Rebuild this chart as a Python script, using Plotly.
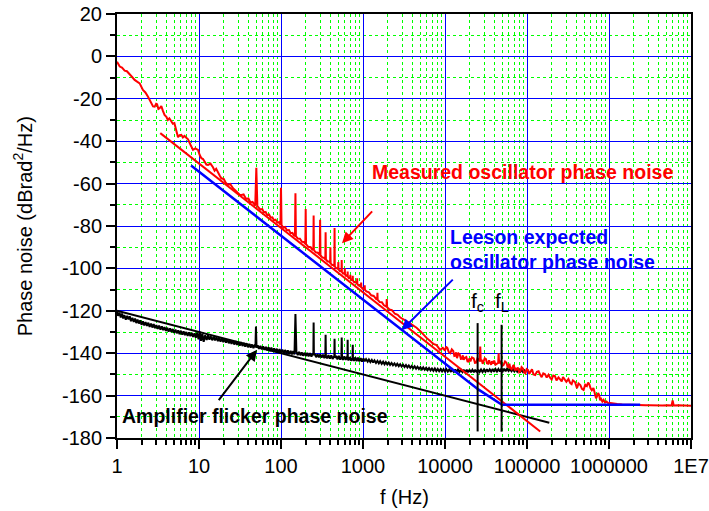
import plotly.graph_objects as go

# ---------------- data ----------------
# Measured oscillator phase noise (Hz, dBrad^2/Hz)
red_low = [
    (1.0, -2.5), (1.04, -3.8), (1.08, -4.8), (1.15, -5.3), (1.24, -6.7), (1.32, -7.0),
    (1.43, -8.3), (1.52, -9.6), (1.64, -11.1), (1.76, -11.8), (1.89, -12.7), (2.07, -15.8),
    (2.22, -17.0), (2.39, -19.0), (2.52, -21.0), (2.62, -22.1), (2.75, -23.6), (2.88, -23.7),
    (3.0, -22.4), (3.08, -22.6), (3.2, -24.8), (3.31, -24.5), (3.47, -23.4), (3.62, -25.6),
    (3.80, -27.6), (4.0, -28.5), (4.17, -30.0), (4.35, -29.2), (4.57, -30.3), (4.8, -31.8),
    (5.01, -31.5), (5.25, -34.5), (5.55, -38.1), (5.8, -37.2), (6.08, -37.0), (6.35, -38.2),
    (6.67, -37.5), (7.0, -38.4), (7.35, -39.1), (7.9, -41.8), (8.45, -44.1), (9.0, -43.4),
    (9.73, -44.1), (10.2, -46.5), (10.7, -48.0), (11.2, -48.4), (11.7, -49.6), (12.3, -51.0),
    (12.9, -51.2), (13.8, -50.6), (14.8, -52.3), (15.5, -53.9), (16.2, -53.0), (17.1, -55.1),
    (18.0, -56.4), (18.7, -57.5), (20.0, -57.8), (21.2, -59.6), (22.6, -60.6), (24.0, -60.2),
    (26.0, -62.2), (28.0, -63.4), (31.3, -65.2),
]
red_mid = [
    (33.0, -65.4), (35, -65.1), (37.5, -67.2), (40, -67.0), (42.5, -68.9), (45, -68.6),
    (48.5, -70.4), (50, -52.5), (51.5, -70.6), (56, -72.3), (59, -72.0), (62, -73.6),
    (65, -73.4), (68, -74.9), (71.5, -74.6), (75, -76.1), (78.5, -75.9), (82, -77.3),
    (86, -77.0), (90, -78.4), (94, -78.2), (98.5, -79.4), (100, -62.0), (101.5, -79.5),
    (107, -80.8), (112, -80.5), (118, -82.0), (125, -81.9), (131, -83.4), (138, -83.2),
    (143, -84.4), (148, -84.6), (150, -64.5), (152, -84.8), (160, -85.9), (170, -86.0),
    (180, -87.4), (190, -87.5), (198, -88.5), (200, -72.0), (202, -88.5), (215, -89.8),
    (230, -90.0), (240, -91.1), (248, -91.2), (250, -75.0), (252, -91.4), (265, -92.4),
    (280, -92.6), (297, -93.7), (300, -77.0), (303, -93.8), (320, -94.9), (335, -95.0),
    (347, -95.7), (350, -83.0), (353, -95.8), (370, -96.7), (385, -96.7), (397, -97.4),
    (400, -90.0), (403, -97.6), (420, -98.4), (435, -98.4), (447, -99.0), (450, -81.0),
    (453, -99.1), (470, -99.9), (485, -99.8), (497, -100.4), (500, -97.0), (503, -100.5),
    (520, -101.2), (535, -101.1), (547, -101.6), (550, -96.0), (553, -101.7), (570, -102.4),
    (585, -102.2), (597, -102.8), (600, -100.0), (603, -102.8), (620, -103.5), (635, -103.3),
    (647, -103.8), (650, -101.5), (653, -103.9), (670, -104.5), (685, -104.3), (697, -104.8),
    (700, -103.0), (703, -104.8), (720, -105.4), (735, -105.2), (747, -105.7), (750, -103.5),
    (753, -105.7), (780, -106.5), (810, -106.4), (847, -107.3), (850, -104.6), (853, -107.3),
    (880, -108.0), (910, -107.9), (945, -108.8), (950, -106.7), (955, -108.8), (990, -109.6),
    (1020, -109.4), (1045, -110.1), (1050, -108.0), (1055, -110.1), (1100, -110.9),
    (1180, -111.3), (1260, -112.7), (1350, -113.0), (1450, -114.5), (1490, -114.6),
    (1500, -111.5), (1510, -114.8), (1600, -115.9), (1700, -116.0), (1800, -117.4),
    (1930, -118.0), (1950, -114.5), (1970, -118.3), (2100, -119.4), (2250, -119.7),
    (2450, -121.4), (2650, -121.9), (2850, -123.2), (3100, -123.9), (3350, -124.9),
    (3600, -125.5), (3900, -126.4), (4200, -127.2), (4500, -128.0), (5000, -129.6),
    (5500, -131.4), (6000, -132.9), (6600, -134.3), (7200, -135.6), (7900, -136.2),
    (8700, -138.4), (9400, -137.5),
]
red_high = [
    (10000, -138.8), (10300, -136.9), (10700, -137.6), (11100, -139.4), (11600, -140.0),
    (12100, -138.2), (12600, -139.0), (13000, -141.3), (13300, -141.2), (13700, -139.6),
    (14000, -142.3), (14600, -140.1), (15100, -140.5), (15600, -142.7), (16100, -142.6),
    (16500, -141.0), (16900, -143.1), (17500, -142.2), (18200, -141.8), (18800, -143.9),
    (19300, -144.0), (19900, -142.4), (20400, -143.9), (21300, -142.0), (22400, -142.5),
    (23200, -144.6), (24000, -144.5), (24800, -142.6), (25700, -143.0), (26500, -143.8),
    (26900, -136.8), (27300, -143.6), (28200, -143.5), (28800, -145.0), (29500, -143.9),
    (30500, -142.4), (31600, -142.8), (32500, -144.8), (33500, -145.0), (34500, -143.4),
    (35500, -144.7), (36500, -145.4), (37500, -143.8), (38600, -144.9), (39800, -143.5),
    (41200, -145.4), (42700, -145.0), (44500, -144.6), (45100, -140.0), (45700, -144.8),
    (46800, -143.6), (47900, -144.5), (49800, -146.0), (51900, -145.5), (54000, -143.9),
    (56200, -144.5), (57800, -146.3), (59500, -146.6), (61000, -145.0), (62500, -147.0),
    (65000, -147.6), (67600, -146.0), (69300, -145.6), (71000, -148.2), (72500, -146.9),
    (74100, -148.0), (76000, -147.5), (78000, -146.8), (80300, -149.0), (82800, -148.6),
    (85900, -146.6), (89100, -147.2), (92200, -149.1), (95500, -149.5), (99000, -147.5),
    (103000, -148.0), (106500, -149.8), (110000, -148.6), (115000, -147.6), (120000, -150.0),
    (126000, -150.3), (132000, -148.8), (138500, -148.5), (145000, -150.2), (151000, -151.3),
    (158000, -149.5), (166000, -149.9), (174000, -151.5), (183000, -150.2), (192000, -151.7),
    (200000, -152.4), (209000, -150.5), (219000, -150.8), (229000, -152.8), (242000, -151.4),
    (255000, -152.5), (265000, -153.3), (275000, -151.2), (288000, -152.1), (302000, -153.5),
    (320000, -152.2), (337000, -154.1), (350000, -154.6), (363000, -152.8), (385000, -153.6),
    (407000, -156.5), (425000, -154.3), (447000, -155.0), (468000, -156.8), (490000, -157.3),
    (513000, -154.9), (537000, -155.5), (556000, -153.8), (575000, -154.6), (596000, -156.6),
    (617000, -157.5), (646000, -156.4), (676000, -159.0), (695000, -161.2), (714000, -160.4),
    (737000, -158.8), (759000, -159.8), (780000, -162.2), (800000, -161.6), (830000, -162.8),
    (859000, -162.0), (895000, -163.3), (933000, -162.8), (985000, -163.7), (1040000, -163.5),
    (1150000, -163.9), (1260000, -164.0), (1450000, -164.2), (1660000, -164.3),
    (2000000, -164.5), (2400000, -164.8), (2800000, -164.6), (3160000, -164.6),
    (3800000, -164.8), (4470000, -164.7), (5200000, -164.6), (5800000, -164.7),
    (5970000, -162.3), (6150000, -164.7), (7000000, -164.6), (7940000, -164.6),
    (8900000, -164.8), (10000000, -164.8),
]

# Amplifier flicker phase noise (measured)
amp_low = [
    (1.00, -120.2), (1.03, -122.4), (1.07, -120.8), (1.11, -123.1), (1.15, -121.3),
    (1.19, -123.6), (1.23, -122.0), (1.28, -124.2), (1.33, -122.4), (1.38, -124.0),
    (1.43, -122.6), (1.48, -124.9), (1.54, -123.3), (1.60, -125.2), (1.66, -123.7),
    (1.72, -125.8), (1.78, -124.1), (1.85, -126.0), (1.92, -124.5), (1.99, -126.6),
    (2.07, -125.0), (2.15, -126.9), (2.23, -125.3), (2.32, -127.1), (2.41, -125.6),
    (2.50, -127.6), (2.60, -126.0), (2.70, -127.9), (2.80, -126.3), (2.91, -128.2),
    (3.02, -126.8), (3.14, -128.5), (3.26, -127.0), (3.39, -128.9), (3.52, -127.3),
    (3.66, -129.1), (3.80, -127.7), (3.95, -129.5), (4.10, -128.0), (4.26, -129.8),
    (4.43, -128.3), (4.60, -130.0), (4.78, -128.6), (4.97, -130.4), (5.16, -128.9),
    (5.36, -130.6), (5.57, -129.2), (5.79, -131.0), (6.01, -129.4), (6.25, -131.2),
    (6.49, -129.7), (6.74, -131.5), (7.00, -130.0), (7.27, -131.8), (7.55, -130.2),
    (7.85, -132.0), (8.15, -130.4), (8.47, -132.3), (8.80, -130.6), (9.14, -132.7),
    (9.50, -130.3), (9.87, -133.4), (10.25, -129.8), (10.6, -134.2), (11.0, -130.9),
    (11.4, -134.6), (11.9, -131.5), (12.4, -133.8), (12.9, -131.6), (13.4, -133.6),
    (13.9, -132.0), (14.5, -133.9), (15.1, -132.2), (15.7, -134.0), (16.3, -132.5),
    (17.0, -134.3), (17.6, -132.7), (18.3, -134.5), (19.0, -133.0), (19.8, -134.8),
    (20.5, -133.2), (21.4, -135.0), (22.2, -133.5), (23.1, -135.3), (24.0, -133.8),
    (24.9, -135.6), (25.9, -134.0), (26.9, -135.9), (28.0, -134.3), (29.1, -136.1),
    (30.2, -134.6), (31.4, -136.4), (32.6, -134.8), (33.9, -136.6), (35.2, -135.1),
    (36.6, -136.9), (38.0, -135.3), (39.5, -137.2), (41.1, -135.6), (42.7, -137.4),
    (44.4, -135.9), (46.1, -137.6), (47.9, -136.0), (48.8, -137.0), (49.5, -127.4),
    (50.3, -137.3), (52.0, -136.3), (54.0, -138.0), (56.1, -136.5), (58.3, -138.2),
    (60.6, -136.8), (63.0, -138.4), (65.5, -137.0), (68.0, -138.7), (70.7, -137.2),
    (73.5, -139.0), (76.3, -137.4), (79.3, -139.2), (82.4, -137.7), (85.6, -139.4),
    (89.0, -137.9), (92.5, -139.7), (96.1, -138.1),
]
amp_mid = [
    (100, -139.8), (104, -138.3), (108, -140.1), (112, -138.5), (117, -140.2), (121, -138.7),
    (126, -140.4), (131, -138.9), (136, -140.6), (141, -139.0), (146, -140.6), (150, -121.5),
    (154, -139.3), (160, -140.9), (166, -139.4), (173, -141.0), (179, -139.6), (186, -141.2),
    (194, -139.8), (201, -141.3), (209, -139.9), (217, -141.5), (226, -140.0), (235, -141.6),
    (244, -140.2), (248, -141.0), (250, -125.5), (252, -141.0), (258, -140.3), (268, -141.9),
    (279, -140.4), (290, -142.0), (301, -140.6), (313, -142.1), (325, -140.7), (338, -142.3),
    (347, -141.5), (350, -131.3), (353, -141.4), (365, -142.4), (379, -140.9), (394, -142.6),
    (410, -141.0), (426, -142.7), (442, -141.5), (447, -142.0), (450, -133.2), (453, -142.2),
    (470, -141.2), (488, -142.9), (507, -141.3), (527, -143.0), (545, -142.0), (550, -132.6),
    (555, -142.2), (570, -143.1), (592, -141.5), (615, -143.2), (639, -141.6), (647, -142.5),
    (650, -133.7), (653, -142.6), (665, -143.4), (690, -141.8), (717, -143.5), (745, -142.4),
    (750, -136.0), (755, -142.6), (775, -143.6), (805, -142.0), (836, -143.8), (869, -142.1),
    (903, -143.9), (938, -142.3), (975, -144.0), (1013, -142.5),
]
amp_high = [
    (1050, -143.8), (1090, -142.8), (1140, -144.0), (1180, -143.0), (1230, -144.2),
    (1280, -143.2), (1330, -144.4), (1380, -143.4), (1440, -144.6), (1500, -143.6),
    (1560, -144.8), (1620, -143.8), (1690, -145.0), (1760, -144.0), (1830, -145.2),
    (1900, -144.2), (1980, -145.3), (2060, -144.4), (2140, -145.5), (2230, -144.6),
    (2320, -145.7), (2420, -144.8), (2520, -145.9), (2620, -145.0), (2730, -146.1),
    (2840, -145.2), (2960, -146.3), (3080, -145.4), (3210, -146.5), (3340, -145.6),
    (3480, -146.7), (3620, -145.8), (3770, -146.9), (3930, -146.0), (4090, -147.1),
    (4260, -146.2), (4440, -147.3), (4620, -146.4), (4810, -147.5), (5010, -146.6),
    (5220, -147.7), (5430, -146.7), (5660, -147.8), (5890, -146.9), (6140, -148.0),
    (6390, -147.0), (6660, -148.1), (6930, -147.2), (7220, -148.3), (7520, -147.2),
    (7830, -148.4), (8150, -147.4), (8490, -148.5), (8840, -147.5), (9210, -148.6),
    (9590, -147.5), (9990, -148.7), (10400, -147.6), (10800, -148.7), (11300, -147.6),
    (11800, -148.8), (12200, -147.7), (12800, -148.8), (13300, -147.7), (13800, -148.9),
    (14400, -147.7), (15000, -148.9), (15600, -147.8), (16300, -148.9), (16900, -147.8),
    (17600, -149.0), (18400, -147.8), (19100, -149.0), (19900, -147.8), (20700, -149.0),
    (21600, -147.8), (22500, -149.0), (23400, -147.8), (24400, -149.0), (25400, -147.8),
    (26400, -148.9), (27500, -147.7), (28700, -148.9), (29900, -147.7), (31100, -148.8),
    (32400, -147.6), (33700, -148.8), (35100, -147.6), (36600, -148.7), (38100, -147.5),
    (39700, -148.7), (41300, -147.5), (43000, -148.6), (44800, -147.4), (46700, -148.6),
    (48600, -147.4), (50600, -148.5), (52700, -147.3), (54900, -148.5), (57200, -147.3),
    (59600, -148.4), (62100, -147.4), (64700, -148.5), (67400, -147.5), (70200, -148.6),
    (73100, -147.6), (76100, -148.7), (79300, -147.8), (82600, -148.8), (86000, -148.0),
    (89600, -148.9), (93300, -148.1), (95000, -148.6),
]

# straight reference lines
fit_f = [3.37, 145000]          # f^-3 fit of measured oscillator noise
fit_db = [-36.2, -176.9]
leeson_f = [8, 25700, 49500, 2400000]
leeson_db = [-51.5, -157.2, -164.3, -164.3]
flicker_f = [1, 187000]
flicker_db = [-120.0, -172.8]
fc_hz, fl_hz = 25000, 49000
fc_db = [-125.8, -176.9]
fl_db = [-126.6, -177.0]

x_tickvals = [1, 10, 100, 1000, 10000, 100000, 1000000, 10000000]
x_ticktext = ["1", "10", "100", "1000", "10000", "100000", "1000000", "1E7"]
y_tickvals = [20, 0, -20, -40, -60, -80, -100, -120, -140, -160, -180]
y_ticktext = ["20", "0", "-20", "-40", "-60", "-80", "-100", "-120", "-140", "-160", "-180"]

# ---------------- figure ----------------
RED, BLUE, BLACK = "#FF0000", "#0000FF", "#000000"
FONT = "Arial, Liberation Sans, sans-serif"

red_pts = red_low + red_mid + red_high
amp_pts = amp_low + amp_mid + amp_high
fig = go.Figure()
fig.add_trace(go.Scatter(x=[p[0] for p in amp_pts], y=[p[1] for p in amp_pts],
                         mode="lines", line=dict(color=BLACK, width=2)))
fig.add_trace(go.Scatter(x=[p[0] for p in red_pts], y=[p[1] for p in red_pts],
                         mode="lines", line=dict(color=RED, width=2)))
fig.add_trace(go.Scatter(x=flicker_f, y=flicker_db, mode="lines", line=dict(color=BLACK, width=2)))
fig.add_trace(go.Scatter(x=fit_f, y=fit_db, mode="lines", line=dict(color=RED, width=2)))
fig.add_trace(go.Scatter(x=leeson_f, y=leeson_db, mode="lines", line=dict(color=BLUE, width=2.5)))
fig.add_trace(go.Scatter(x=[fc_hz, fc_hz], y=fc_db, mode="lines", line=dict(color=BLACK, width=2)))
fig.add_trace(go.Scatter(x=[fl_hz, fl_hz], y=fl_db, mode="lines", line=dict(color=BLACK, width=2)))

axis_common = dict(
    showline=True, linecolor=BLACK, linewidth=2, mirror=True, automargin=False,
    ticks="outside", ticklen=9, tickwidth=2, tickcolor=BLACK, ticklabeloverflow="allow",
    showgrid=True, gridcolor=BLUE, gridwidth=1, zeroline=False,
    tickfont=dict(family=FONT, size=20, color=BLACK),
)
fig.update_xaxes(type="log", range=[0, 7], tickmode="array", tickvals=x_tickvals,
                 ticktext=x_ticktext,
                 minor=dict(dtick="D1", ticks="outside", ticklen=5, tickwidth=1.5,
                            tickcolor=BLACK, showgrid=True, gridcolor="#00FF00",
                            griddash="dot", gridwidth=1),
                 **axis_common)
fig.update_yaxes(range=[-180, 20], tickmode="array", tickvals=y_tickvals,
                 ticktext=y_ticktext,
                 minor=dict(dtick=10, tick0=0, ticks="outside", ticklen=5, tickwidth=1.5,
                            tickcolor=BLACK, showgrid=True, gridcolor="#00FF00",
                            griddash="dot", gridwidth=1),
                 **axis_common)

bold = dict(family=FONT, size=19.5)
ann = [
    dict(x=4.949, y=-54.3, text="<b>Measured oscillator phase noise</b>", showarrow=False,
         font=dict(color=RED, **bold), xanchor="center", yanchor="middle"),
    dict(x=4.032, y=-91.1, text="<b>Leeson expected<br>oscillator phase noise</b>", showarrow=False,
         font=dict(color=BLUE, **bold), xanchor="left", yanchor="middle", align="left"),
    dict(x=1.687, y=-169.8, text="<b>Amplifier flicker phase noise</b>", showarrow=False,
         font=dict(color=BLACK, **bold), xanchor="center", yanchor="middle"),
    dict(x=4.398, y=-116.0, text="f<sub>c</sub>", showarrow=False,
         font=dict(family=FONT, size=21, color=BLACK), xanchor="center", yanchor="middle"),
    dict(x=4.69, y=-116.0, text="f<sub>L</sub>", showarrow=False,
         font=dict(family=FONT, size=21, color=BLACK), xanchor="center", yanchor="middle"),
    # arrows
    dict(x=2.744, y=-88.1, ax=3.129, ay=-72.4, axref="x", ayref="y", text="", showarrow=True,
         arrowhead=2, arrowsize=1.1, arrowwidth=2, arrowcolor=RED),
    dict(x=3.47, y=-129.2, ax=4.113, ay=-104.6, axref="x", ayref="y", text="", showarrow=True,
         arrowhead=2, arrowsize=1.1, arrowwidth=2, arrowcolor=BLUE),
    dict(x=1.707, y=-138.4, ax=1.227, ay=-162.8, axref="x", ayref="y", text="", showarrow=True,
         arrowhead=2, arrowsize=1.1, arrowwidth=2, arrowcolor=BLACK),
    # axis titles
    dict(x=-0.165, y=0.5, xref="paper", yref="paper", text="Phase noise (dBrad<sup>2</sup>/Hz)",
         textangle=-90, showarrow=False, font=dict(family=FONT, size=20, color=BLACK),
         xanchor="center", yanchor="middle"),
    dict(x=0.5, y=-0.138, xref="paper", yref="paper", text="f (Hz)", showarrow=False,
         font=dict(family=FONT, size=20, color=BLACK), xanchor="center", yanchor="middle"),
]
fig.update_layout(
    width=709, height=511, margin=dict(l=117, r=18, t=14, b=73),
    paper_bgcolor="white", plot_bgcolor="white", showlegend=False,
    annotations=ann,
)
# remove the default 8 px page margin so the figure fills the window exactly
fig.write_html("out.html",
               config={"displayModeBar": False},
               post_script="document.body.style.margin='0px';"
                           "document.body.style.overflow='hidden';")
